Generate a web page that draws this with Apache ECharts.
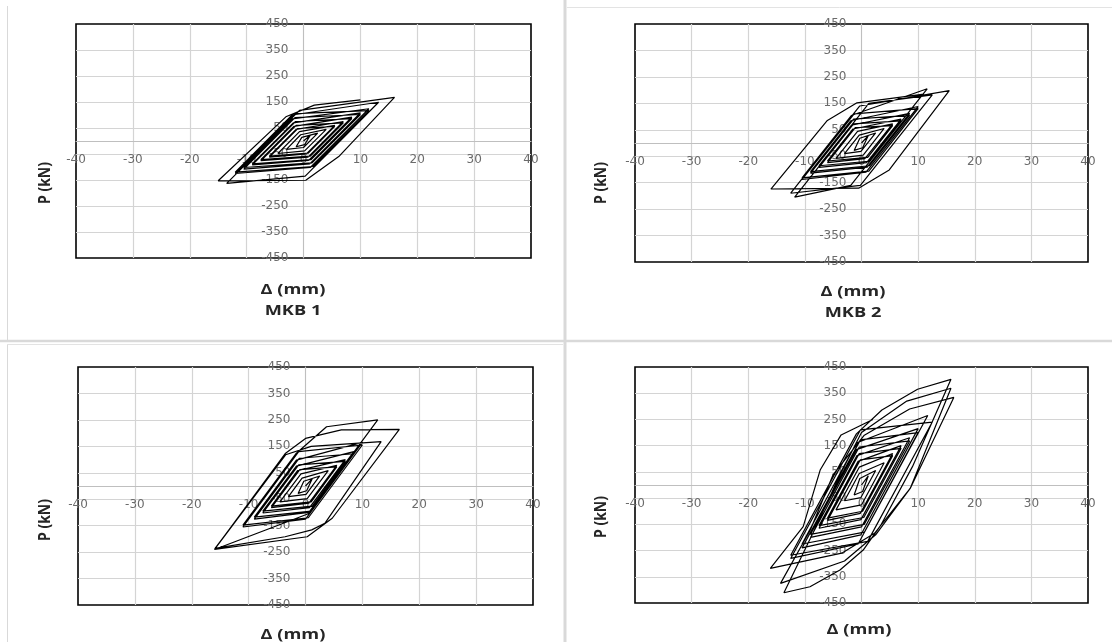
<!DOCTYPE html>
<html>
<head>
<meta charset="utf-8">
<script src="https://cdn.jsdelivr.net/npm/echarts@6/dist/echarts.min.js"></script>
<style>
html,body{margin:0;padding:0;background:#fff;}
#chart{width:1112px;height:642px;}
</style>
</head>
<body>
<div id="chart"></div>
<script>
// ---- data (Δ in mm, P in kN) ----
const xTitle = 'Δ (mm)';
const yTitle = 'P (kN)';
const panelTitles = ['MKB 1', 'MKB 2'];
const xTicks = [-40, 40, 10];      // min, max, step
const yTicks = [-450, 450, 100];   // min, max, step

const mkb1 = [
  [0,0],
  [1.2,22],[0.2,-14],[-1.3,-22],[-0.3,14],
  [2.5,30],[0.0,-25],[-3.0,-32],[-0.5,24],
  [4.0,45],[0.2,-38],[-4.5,-48],[-0.7,36],
  [5.5,60],[0.5,-50],[-6.0,-62],[-1.0,48],
  [5.5,56],[0.8,-47],[-6.0,-58],[-1.3,45],
  [7.0,75],[0.8,-62],[-7.5,-76],[-1.3,60],
  [7.0,70],[1.2,-58],[-7.5,-72],[-1.7,56],
  [8.5,92],[0.9,-75],[-9.0,-92],[-1.4,75],
  [8.5,86],[1.3,-72],[-9.0,-88],[-1.8,70],
  [10.0,108],[1.1,-88],[-10.5,-108],[-1.5,90],
  [10.0,102],[1.5,-84],[-10.5,-102],[-2.0,85],
  [11.5,124],[1.2,-102],[-12.0,-125],[-1.5,105],
  [11.5,117],[1.7,-98],[-12.0,-120],[-2.0,100],
  [13.2,149],[0.3,-135],[-13.5,-163],[-0.7,118],
  [16.0,168],[6.2,-60],[0.4,-151],[-15.0,-153],[-3.1,93],[1.9,138],[10.0,158]
];

const mkb2 = [
  [0,0],
  [1.2,28],[0.2,-18],[-1.3,-28],[-0.3,18],
  [2.5,38],[-0.1,-32],[-3.0,-40],[-0.4,30],
  [4.0,55],[0.3,-46],[-4.5,-58],[-0.7,44],
  [5.5,72],[0.6,-59],[-6.0,-74],[-1.1,58],
  [5.5,66],[1.1,-54],[-6.0,-68],[-1.5,53],
  [7.0,90],[0.9,-74],[-7.5,-92],[-1.4,72],
  [7.0,84],[1.3,-69],[-7.5,-86],[-1.8,67],
  [8.5,112],[1.0,-91],[-9.0,-114],[-1.4,90],
  [8.5,105],[1.4,-86],[-9.0,-108],[-1.9,84],
  [10.0,138],[0.8,-110],[-10.5,-138],[-1.3,110],
  [10.0,130],[1.3,-106],[-10.5,-132],[-1.8,104],
  [11.6,205],[-1.9,-160],[-11.8,-205],[1.3,150],
  [12.5,182],[-0.2,-160],[-12.5,-190],[-0.3,140],
  [15.5,198],[4.9,-102],[-0.5,-171],[-16.0,-174],[-6.1,84],[-0.8,152],[11.0,185]
];

const mkb3 = [
  [0,0],
  [1.2,28],[0.2,-18],[-1.3,-28],[-0.3,18],
  [2.5,38],[0.1,-32],[-3.0,-40],[-0.6,30],
  [4.0,58],[0.3,-48],[-4.5,-60],[-0.8,46],
  [5.5,78],[0.6,-65],[-6.0,-82],[-1.0,62],
  [5.5,72],[1.0,-60],[-6.0,-76],[-1.4,58],
  [7.0,100],[0.7,-82],[-7.5,-102],[-1.2,80],
  [7.0,93],[1.2,-76],[-7.5,-95],[-1.6,75],
  [8.5,130],[0.6,-100],[-9.0,-125],[-1.1,105],
  [8.5,122],[1.0,-95],[-9.0,-118],[-1.6,98],
  [10.0,165],[0.0,-125],[-11.0,-155],[-1.2,130],
  [10.0,155],[0.5,-120],[-11.0,-148],[-1.7,122],
  [3.7,224],[12.7,250],[6.0,55],[0.5,-105],[-16.0,-240],[-3.5,124],[0.0,180],
  [6.3,212],[16.5,214],[4.7,-122],[0.3,-192],[-16.0,-240],[-3.5,118],[1.0,150],
  [13.3,168],[3.4,-141],[1.1,-166],[-3.6,-192],[-15.9,-236],[-8.0,-10]
];

const mkb4 = [
  [0,0],
  [1.2,35],[0.2,-25],[-1.3,-38],[-0.3,25],
  [2.5,55],[-0.1,-48],[-3.0,-60],[-0.4,44],
  [4.0,85],[0.0,-76],[-4.5,-95],[-0.4,68],
  [5.5,120],[-0.2,-108],[-6.0,-135],[-0.2,96],
  [5.5,112],[0.2,-100],[-6.0,-126],[-0.6,90],
  [7.0,150],[-0.1,-132],[-7.5,-165],[-0.4,120],
  [7.0,140],[0.4,-124],[-7.5,-155],[-0.8,112],
  [8.5,180],[0.0,-160],[-9.0,-200],[-0.4,145],
  [8.5,168],[0.5,-150],[-9.0,-188],[-0.9,135],
  [10.0,215],[-0.1,-190],[-10.5,-240],[-0.2,172],
  [10.0,200],[0.5,-180],[-10.5,-225],[-0.9,160],
  [11.7,265],[-0.6,-225],[-12.5,-280],[-0.2,210],
  [12.5,240],[1.1,-215],[-12.5,-268],[-0.9,195],
  [3.6,286],[9.9,365],[15.8,403],[9.0,70],[3.5,-150],[0.3,-248],[-3.8,-324],[-9.1,-388],[-13.7,-411],
  [-8.5,-180],[-4.0,30],[0.0,200],[8.0,320],[15.8,369],[8.6,-13],[2.5,-190],[-3.0,-290],[-14.3,-375],
  [-9.0,-170],[-5.0,40],[0.5,190],[8.5,290],[16.3,334],[8.6,-13],[2.3,-184],[-3.5,-260],[-16.1,-318],
  [-10.3,-159],[-7.3,57],[-3.6,191],[2.0,250]
];

const panelData = [mkb1, mkb2, mkb3, mkb4];

// ---- layout ----
const grids = [
  {left: 76, top: 24, width: 455, height: 234},
  {left: 635, top: 24, width: 453, height: 238},
  {left: 78, top: 367, width: 455, height: 238},
  {left: 635, top: 367, width: 453, height: 236}
];
const labelFont = '"DejaVu Sans", "Liberation Sans", sans-serif';

const option = {
  backgroundColor: '#fff',
  animation: false,
  grid: grids.map(g => Object.assign({show: true, borderColor: '#000', borderWidth: 1.6, backgroundColor: 'transparent'}, g)),
  xAxis: grids.map((g, i) => ({
    gridIndex: i, type: 'value', min: xTicks[0], max: xTicks[1], interval: xTicks[2],
    position: 'bottom', offset: -g.height / 2,
    axisLine: {show: true, onZero: false, lineStyle: {color: '#bfbfbf', width: 1}},
    axisTick: {show: false},
    axisLabel: {color: '#6b6b6b', fontSize: 12, fontFamily: labelFont, margin: 13, showMinLabel: true, showMaxLabel: true},
    splitLine: {show: true, showMinLine: false, showMaxLine: false, lineStyle: {color: '#d4d4d4', width: 1.2}}
  })),
  yAxis: grids.map((g, i) => ({
    gridIndex: i, type: 'value', min: yTicks[0], max: yTicks[1], interval: yTicks[2],
    position: 'left', offset: -g.width / 2,
    axisLine: {show: true, onZero: false, lineStyle: {color: '#bfbfbf', width: 1}},
    axisTick: {show: false},
    axisLabel: {color: '#6b6b6b', fontSize: 12, fontFamily: labelFont, margin: 15, showMinLabel: true, showMaxLabel: true},
    splitLine: {show: true, showMinLine: false, showMaxLine: false, lineStyle: {color: '#d4d4d4', width: 1.2}}
  })),
  series: panelData.map((d, i) => ({
    type: 'line', xAxisIndex: i, yAxisIndex: i, data: d,
    showSymbol: false, symbol: 'none', smooth: false, clip: true,
    lineStyle: {color: '#000', width: 1.2},
    z: 3
  })),
  graphic: []
};

const titleStyle = {fill: '#262626', font: 'bold 14px "Open Sans", "Liberation Sans", sans-serif', textAlign: 'center', textVerticalAlign: 'middle'};
const yTitlePos = [[45, 183], [601, 183], [45, 520], [601, 517]];
const xTitlePos = [[293, 290], [853, 292], [293, 635], [859, 630]];
const subTitlePos = [[293, 311], [853, 313]];

const g = option.graphic;
// panel separators
g.push({type: 'line', shape: {x1: 565, y1: 0, x2: 565, y2: 642}, style: {stroke: '#d9d9d9', lineWidth: 3}, z: 1});
g.push({type: 'line', shape: {x1: 0, y1: 341, x2: 1112, y2: 341}, style: {stroke: '#d9d9d9', lineWidth: 2.5}, z: 1});
g.push({type: 'line', shape: {x1: 7, y1: 344.5, x2: 563, y2: 344.5}, style: {stroke: '#e3e3e3', lineWidth: 1}, z: 1});
g.push({type: 'line', shape: {x1: 7.5, y1: 6, x2: 7.5, y2: 340}, style: {stroke: '#d9d9d9', lineWidth: 1}, z: 1});
g.push({type: 'line', shape: {x1: 7.5, y1: 345, x2: 7.5, y2: 642}, style: {stroke: '#d9d9d9', lineWidth: 1}, z: 1});
g.push({type: 'line', shape: {x1: 567, y1: 7.5, x2: 1112, y2: 7.5}, style: {stroke: '#e3e3e3', lineWidth: 1}, z: 1});

yTitlePos.forEach(p => g.push({type: 'text', x: p[0], y: p[1], rotation: Math.PI / 2, scaleY: 1.15, style: Object.assign({text: yTitle}, titleStyle), z: 5}));
xTitlePos.forEach(p => g.push({type: 'text', x: p[0], y: p[1], scaleX: 1.3, style: Object.assign({text: xTitle}, titleStyle), z: 5}));
subTitlePos.forEach((p, i) => g.push({type: 'text', x: p[0], y: p[1], scaleX: 1.3, style: Object.assign({text: panelTitles[i]}, titleStyle), z: 5}));

const chart = echarts.init(document.getElementById('chart'), null, {renderer: 'canvas'});
chart.setOption(option);
</script>
</body>
</html>
